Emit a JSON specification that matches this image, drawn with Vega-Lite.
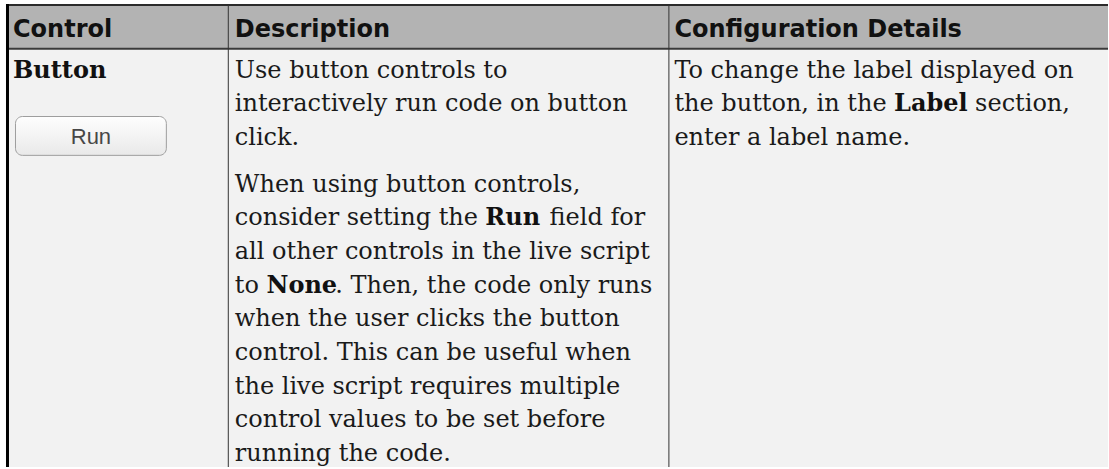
{
  "$schema": "https://vega.github.io/schema/vega-lite/v6.json",
  "width": 1109,
  "height": 469,
  "autosize": {"type": "fit", "contains": "padding"},
  "padding": 0,
  "background": "#ffffff",
  "config": {"view": {"stroke": null}},
  "datasets": {
    "texts": [
      {"kind": "header", "x": 13, "line": -1.213, "text": "Control"},
      {"kind": "header", "x": 235, "line": -1.213, "text": "Description"},
      {"kind": "header", "x": 675, "line": -1.213, "text": "Configuration Details"},
      {"kind": "term", "x": 13, "line": 0, "text": "Button"},
      {"kind": "body", "x": 235, "line": 0, "text": "Use button controls to"},
      {"kind": "body", "x": 235, "line": 1, "text": "interactively run code on button"},
      {"kind": "body", "x": 235, "line": 2, "text": "click."},
      {"kind": "body", "x": 235, "line": 3.39, "text": "When using button controls,"},
      {"kind": "body", "x": 235, "line": 4.39, "text": "consider setting the"},
      {"kind": "emph", "x": 485.8, "line": 4.39, "text": "Run"},
      {"kind": "body", "x": 550, "line": 4.39, "text": "field for"},
      {"kind": "body", "x": 235, "line": 5.39, "text": "all other controls in the live script"},
      {"kind": "body", "x": 235, "line": 6.39, "text": "to"},
      {"kind": "emph", "x": 266.7, "line": 6.39, "text": "None"},
      {"kind": "body", "x": 335.5, "line": 6.39, "text": ". Then, the code only runs"},
      {"kind": "body", "x": 235, "line": 7.39, "text": "when the user clicks the button"},
      {"kind": "body", "x": 235, "line": 8.39, "text": "control. This can be useful when"},
      {"kind": "body", "x": 235, "line": 9.39, "text": "the live script requires multiple"},
      {"kind": "body", "x": 235, "line": 10.39, "text": "control values to be set before"},
      {"kind": "body", "x": 235, "line": 11.39, "text": "running the code."},
      {"kind": "body", "x": 675, "line": 0, "text": "To change the label displayed on"},
      {"kind": "body", "x": 675, "line": 1, "text": "the button, in the"},
      {"kind": "emph", "x": 894.9, "line": 1, "text": "Label"},
      {"kind": "body", "x": 976, "line": 1, "text": "section,"},
      {"kind": "body", "x": 675, "line": 2, "text": "enter a label name."},
      {"kind": "button", "x": 91, "line": 1.982, "text": "Run"}
    ],
    "separators": [{"x": 228.5}, {"x": 669.5}]
  },
  "layer": [
    {
      "data": {"values": [{}]},
      "mark": {"type": "rect", "fill": "#f2f2f2"},
      "encoding": {
        "x": {"datum": 6, "type": "quantitative", "scale": {"domain": [0, 1109], "nice": false, "zero": false}, "axis": null},
        "x2": {"datum": 1109},
        "y": {"datum": -0.858, "type": "quantitative", "scale": {"domain": [-2.3077, 11.568], "nice": false, "zero": false, "reverse": true}, "axis": null},
        "y2": {"datum": 11.568}
      }
    },
    {
      "data": {"values": [{}]},
      "mark": {"type": "rect", "fill": "#b3b3b3"},
      "encoding": {
        "x": {"datum": 6, "type": "quantitative"},
        "x2": {"datum": 1109},
        "y": {"datum": -2.16, "type": "quantitative"},
        "y2": {"datum": -0.858}
      }
    },
    {
      "data": {"values": [{}]},
      "mark": {"type": "rule", "color": "#2b2b2b", "strokeWidth": 2},
      "encoding": {
        "x": {"datum": 6, "type": "quantitative"},
        "x2": {"datum": 1109},
        "y": {"datum": -2.16, "type": "quantitative"}
      }
    },
    {
      "data": {"values": [{}]},
      "mark": {"type": "rule", "color": "#3a3a3a", "strokeWidth": 2},
      "encoding": {
        "x": {"datum": 6, "type": "quantitative"},
        "x2": {"datum": 1109},
        "y": {"datum": -0.858, "type": "quantitative"}
      }
    },
    {
      "data": {"name": "separators"},
      "mark": {"type": "rule", "color": "#333333", "strokeWidth": 1},
      "encoding": {
        "x": {"field": "x", "type": "quantitative"},
        "y": {"datum": -2.16, "type": "quantitative"},
        "y2": {"datum": 11.568}
      }
    },
    {
      "data": {"values": [{}]},
      "mark": {"type": "rule", "color": "#000000", "strokeWidth": 3},
      "encoding": {
        "x": {"datum": 7.5, "type": "quantitative"},
        "y": {"datum": -2.19, "type": "quantitative"},
        "y2": {"datum": 11.568}
      }
    },
    {
      "data": {"values": [{}]},
      "mark": {
        "type": "rect",
        "cornerRadius": 7,
        "stroke": "#9e9e9e",
        "strokeWidth": 1,
        "fill": {"gradient": "linear", "x1": 0, "y1": 0, "x2": 0, "y2": 1, "stops": [{"offset": 0, "color": "#fefefe"}, {"offset": 1, "color": "#e9e9e9"}]}
      },
      "encoding": {
        "x": {"datum": 15.5, "type": "quantitative"},
        "x2": {"datum": 166.5},
        "y": {"datum": 1.154, "type": "quantitative"},
        "y2": {"datum": 2.308}
      }
    },
    {
      "data": {"name": "texts"},
      "transform": [{"filter": "datum.kind === 'header'"}],
      "mark": {"type": "text", "font": "DejaVu Sans", "fontWeight": "bold", "fontSize": 24, "color": "#111111", "align": "left", "baseline": "alphabetic"},
      "encoding": {
        "x": {"field": "x", "type": "quantitative"},
        "y": {"field": "line", "type": "quantitative"},
        "text": {"field": "text"}
      }
    },
    {
      "data": {"name": "texts"},
      "transform": [{"filter": "datum.kind === 'term' || datum.kind === 'emph'"}],
      "mark": {"type": "text", "font": "DejaVu Serif", "fontWeight": "bold", "fontSize": 24, "color": "#111111", "align": "left", "baseline": "alphabetic"},
      "encoding": {
        "x": {"field": "x", "type": "quantitative"},
        "y": {"field": "line", "type": "quantitative"},
        "text": {"field": "text"}
      }
    },
    {
      "data": {"name": "texts"},
      "transform": [{"filter": "datum.kind === 'body'"}],
      "mark": {"type": "text", "font": "DejaVu Serif", "fontSize": 24, "color": "#1a1a1a", "align": "left", "baseline": "alphabetic"},
      "encoding": {
        "x": {"field": "x", "type": "quantitative"},
        "y": {"field": "line", "type": "quantitative"},
        "text": {"field": "text"}
      }
    },
    {
      "data": {"name": "texts"},
      "transform": [{"filter": "datum.kind === 'button'"}],
      "mark": {"type": "text", "font": "Liberation Sans", "fontSize": 22, "color": "#474747", "align": "center", "baseline": "alphabetic"},
      "encoding": {
        "x": {"field": "x", "type": "quantitative"},
        "y": {"field": "line", "type": "quantitative"},
        "text": {"field": "text"}
      }
    }
  ]
}
